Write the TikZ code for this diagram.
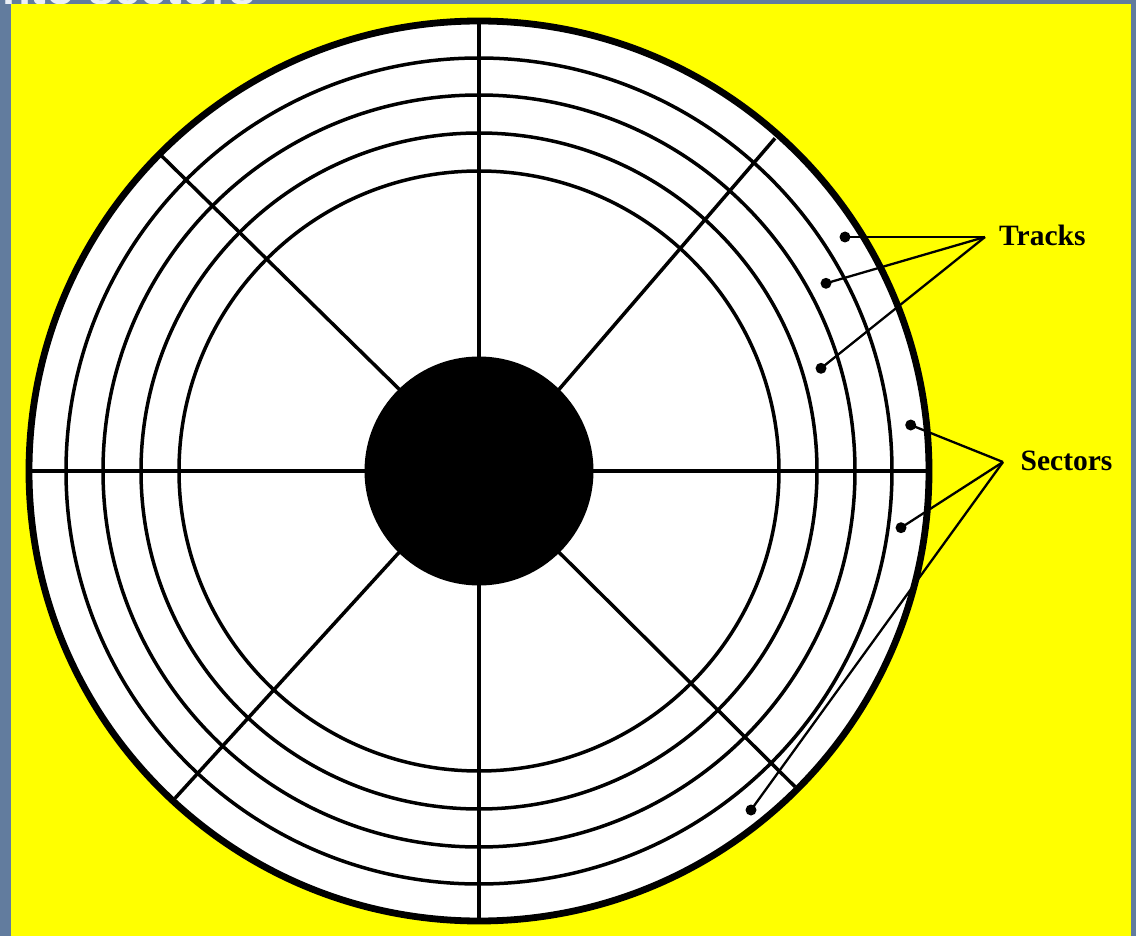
\documentclass[tikz,border=0pt]{standalone}
\usepackage{fontspec}
\setmainfont{Liberation Serif}
\newfontfamily\titlefont{Liberation Sans}
\definecolor{slideframe}{RGB}{98,124,158}
\definecolor{titlewhite}{RGB}{236,240,246}
\definecolor{slideyellow}{RGB}{255,255,0}
\begin{document}
\begin{tikzpicture}[x=1pt,y=-1pt,
  ring/.style={line width=3.5pt},
  rim/.style={line width=6.8pt},
  spoke/.style={line width=3.5pt},
  pointer/.style={line width=2.3pt},
  dotmark/.style={circle,fill=black,inner sep=0pt,minimum size=11pt},
  lbl/.style={font=\bfseries\fontsize{29.5}{29.5}\selectfont,inner sep=0pt,anchor=base west}]
\useasboundingbox (0,0) rectangle (1136,936);
\fill[slideframe] (0,0) rectangle (1136,936);
\begin{scope}
  \clip (0,0) rectangle (1136,936);
  \node[anchor=base west, text=titlewhite, inner sep=0pt,
        font=\titlefont\bfseries\fontsize{47}{47}\selectfont] (title) at (2,5) {nto sectors};
\end{scope}
\fill[slideyellow] (11,4) rectangle (1131,936);
% disk
\coordinate (c) at (479,471);
\fill[white] (c) circle[radius=450pt];
\foreach \r in {300,338,376,413} \draw[ring] (c) circle[radius=\r pt];
\draw[rim] (c) circle[radius=450pt];
% spokes
\coordinate (sW) at (32,471);
\coordinate (sE) at (926,471);
\coordinate (sN) at (479,24);
\coordinate (sS) at (479,918);
\coordinate (sNW) at (161.7,156);
\coordinate (hNW) at (400,390);
\coordinate (sNE) at (775,138.3);
\coordinate (hNE) at (558,390.6);
\coordinate (sSW) at (175,798.3);
\coordinate (hSW) at (400,551.4);
\coordinate (sSE) at (795,786.7);
\coordinate (hSE) at (559,552.3);
\draw[spoke] (sW) -- (sE);
\draw[spoke] (sN) -- (sS);
\draw[spoke] (sNW) -- (hNW);
\draw[spoke] (sNE) -- (hNE);
\draw[spoke] (sSW) -- (hSW);
\draw[spoke] (sSE) -- (hSE);
% hub
\node[circle,fill=black,inner sep=0pt,minimum size=229pt] (hub) at (c) {};
% labels
\node[lbl] (tracks) at (999,246) {Tracks};
\node[lbl] (sectors) at (1020.5,470.5) {Sectors};
\coordinate (tA) at (985,237);
\coordinate (sA) at (1003,462);
\node[dotmark] (t1) at (845,237) {};
\node[dotmark] (t2) at (826,283.3) {};
\node[dotmark] (t3) at (821,368.3) {};
\node[dotmark] (s1) at (910.7,425) {};
\node[dotmark] (s2) at (901,527.7) {};
\node[dotmark] (s3) at (751,810) {};
\foreach \d in {t1,t2,t3} \draw[pointer] (\d.center) -- (tA);
\foreach \d in {s1,s2,s3} \draw[pointer] (\d.center) -- (sA);
\end{tikzpicture}
\end{document}
